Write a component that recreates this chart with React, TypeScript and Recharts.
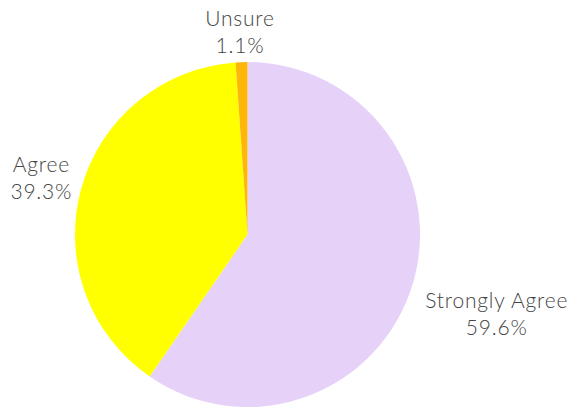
import React from "react";
import { PieChart, Pie, Cell } from "recharts";

const categories = ["Strongly Agree", "Agree", "Unsure"];
const shares = [59.6, 39.3, 1.1];
const colors = ["#E6D1F8", "#FFFF00", "#FFB60A"];

const data = categories.map((name, i) => ({ name, value: shares[i] }));

const RAD = Math.PI / 180;

function renderLabel(props: any) {
  const { cx, cy, midAngle, outerRadius, payload } = props;
  const cos = Math.cos(-midAngle * RAD);
  const sin = Math.sin(-midAngle * RAD);
  const r = outerRadius + 15;
  const lines = [payload.name, payload.value.toFixed(1) + "%"];
  const w = Math.max(...lines.map((l) => l.length)) * 10.5;
  const x = cx + r * cos + (cos * w) / 2;
  const y = cy + r * sin + (sin > 0 ? sin * 94 : sin * 11);
  return (
    <text
      x={x}
      y={y - 10}
      textAnchor="middle"
      fill="#444444"
      fontSize={21}
      fontWeight={300}
      letterSpacing={0.8}
      fontFamily="Lato, sans-serif"
    >
      <tspan x={x} dy={0}>
        {lines[0]}
      </tspan>
      <tspan x={x} dy={27}>
        {lines[1]}
      </tspan>
    </text>
  );
}

export default function App() {
  return (
    <div style={{ position: "absolute", left: 0, top: 0, width: 570, height: 407, background: "#fff" }}>
      <PieChart width={570} height={407} margin={{ top: 0, right: 0, bottom: 0, left: 0 }}>
        <Pie
          data={data}
          dataKey="value"
          nameKey="name"
          cx={247.5}
          cy={234.5}
          outerRadius={172.5}
          startAngle={90}
          endAngle={-270}
          stroke="none"
          label={renderLabel}
          labelLine={false}
          isAnimationActive={false}
        >
          {data.map((d, i) => (
            <Cell key={d.name} fill={colors[i]} />
          ))}
        </Pie>
      </PieChart>
    </div>
  );
}
